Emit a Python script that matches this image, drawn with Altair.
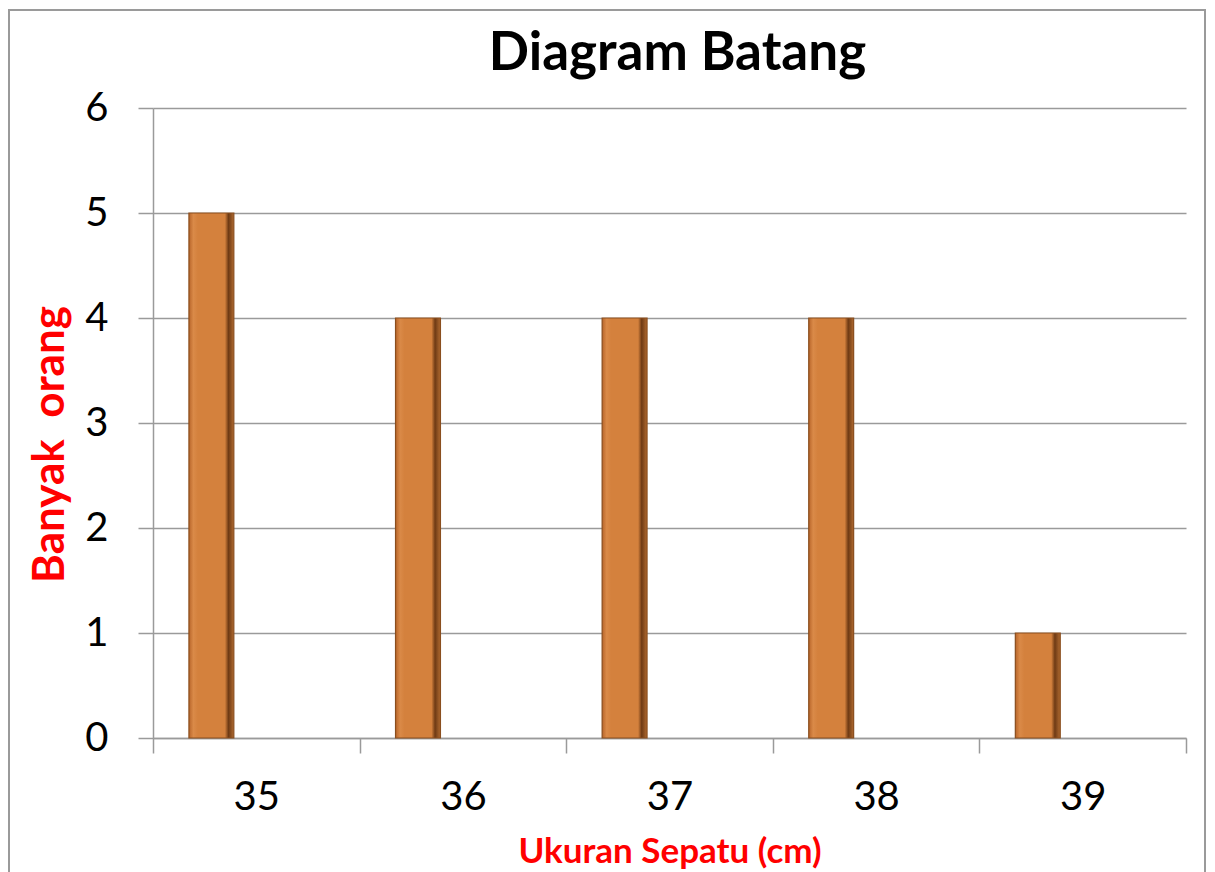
import altair as alt
import pandas as pd

sizes = ["35", "36", "37", "38", "39"]
counts = [5, 4, 4, 4, 1]
series = ["s1", "s1", "s1", "s1", "s1"]
series_domain = ["s1", "s2", "s3"]

df = pd.DataFrame({"size": sizes, "count": counts, "series": series})

bar_fill = {
    "gradient": "linear", "x1": 0, "x2": 1, "y1": 0, "y2": 0,
    "stops": [
        {"offset": 0.0, "color": "#B8652A"},
        {"offset": 0.1, "color": "#DA8A48"},
        {"offset": 0.2, "color": "#D4813D"},
        {"offset": 0.8, "color": "#D4813D"},
        {"offset": 0.88, "color": "#6E3A14"},
        {"offset": 1.0, "color": "#B06A30"},
    ],
}

frame = alt.Chart(pd.DataFrame({"a": [0]})).mark_rect(
    filled=False, stroke="#9a9a9a", strokeWidth=2
).encode(
    x=alt.value(-144), x2=alt.value(1052), y=alt.value(-98), y2=alt.value(770)
)

bars = alt.Chart(df).mark_bar(
    fill=bar_fill, stroke="#8A4E1E", strokeWidth=1.2
).encode(
    x=alt.X("size:N", sort=sizes,
            scale=alt.Scale(paddingInner=0, paddingOuter=0),
            axis=alt.Axis(title="Ukuran Sepatu (cm)", labelAngle=0,
                          tickBand="extent", tickSize=15, tickColor="#9a9a9a",
                          tickWidth=1.5, domainColor="#9a9a9a", domainWidth=1.5,
                          labelFont="Lato", labelFontSize=40, labelColor="black",
                          labelPadding=24, titleFont="Lato", titleFontSize=35,
                          titleFontWeight="bold", titleColor="#FF0000",
                          titleY=113, titleBaseline="middle", grid=False)),
    xOffset=alt.XOffset("series:N", scale=alt.Scale(domain=series_domain,
                                                    paddingOuter=0.8, paddingInner=0)),
    y=alt.Y("count:Q", scale=alt.Scale(domain=[0, 6], nice=False),
            axis=alt.Axis(title="Banyak\u00a0 orang", values=[0, 1, 2, 3, 4, 5, 6],
                          tickSize=15, tickColor="#9a9a9a", tickWidth=1.5,
                          domainColor="#9a9a9a", domainWidth=1.5,
                          gridColor="#9a9a9a", gridWidth=1.5,
                          labelFont="Lato", labelFontSize=40, labelColor="black",
                          labelPadding=30, titleFont="Lato", titleFontSize=44,
                          titleFontWeight="bold", titleColor="#FF0000",
                          titleAngle=-90, titleX=-103, titleY=336,
                          titleBaseline="middle", titleAlign="center")),
)

chart = alt.layer(frame, bars).properties(
    width=1033, height=630,
    padding={"left": 145, "top": 100, "right": 20, "bottom": 134},
    autosize=alt.AutoSizeParams(type="none"),
    title=alt.Title("Diagram Batang", font="Lato", fontSize=53, fontWeight="bold",
                    color="black", anchor="middle", dx=8, offset=-114,
                    baseline="alphabetic"),
).configure_view(stroke=None)

chart.save("out.html", embed_options={"renderer": "svg", "actions": False})
